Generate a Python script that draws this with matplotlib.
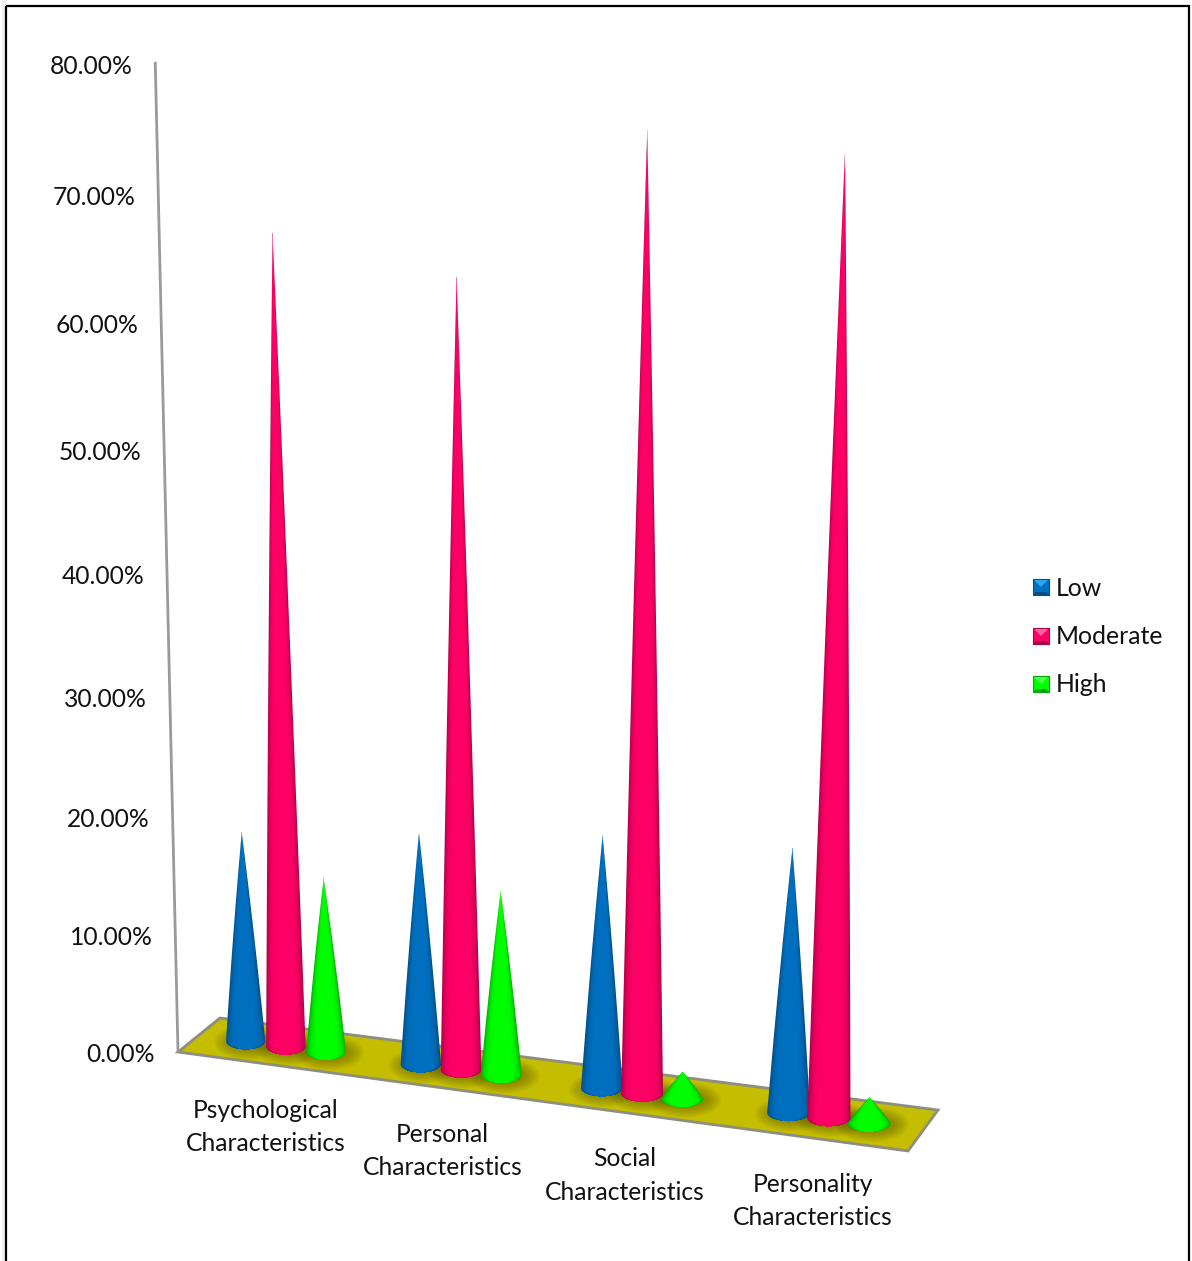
import numpy as np
import matplotlib
matplotlib.use("Agg")
import matplotlib.pyplot as plt
from matplotlib.patches import Ellipse, Polygon, Rectangle
from matplotlib.colors import to_rgb

plt.rcParams['font.family'] = ['Lato', 'DejaVu Sans']

categories = ["Psychological\nCharacteristics", "Personal\nCharacteristics",
              "Social\nCharacteristics", "Personality\nCharacteristics"]
series_names = ["Low", "Moderate", "High"]
low = [18.0, 19.7, 21.2, 21.9]
moderate = [67.2, 64.8, 77.0, 76.4]
high = [14.9, 15.6, 2.3, 2.2]
y_ticks = [0, 10, 20, 30, 40, 50, 60, 70, 80]

colors = ["#0070C0", "#FF0066", "#00FF00"]
lights = ["#2AA5F0", "#FF5FA5", "#4DFF4D"]
darks = ["#0A4C80", "#A8004A", "#00A800"]

W, H = 1192, 1261
# floor corners in the picture: front left, front right, back right, back left
corners = np.array([[178, 1052], [908, 1151], [938, 1110], [220, 1018]], float)
group_u = [0.120, 0.362, 0.612, 0.870]
VANISH_X, VANISH_D = 555, 16400


def floor_point(u, w):
    front = corners[0] + (corners[1] - corners[0]) * u
    back = corners[3] + (corners[2] - corners[3]) * u
    return front + (back - front) * w


def rise(v):
    # height in pixels of value v (percent) at the axis
    t = v / 10
    return 115.7 * t / (1 - 0.00785 * t)


def up(x, y, v, scale=1.0):
    h = rise(v) * scale
    return x + (x - VANISH_X) * h / VANISH_D, y - h


def cone(ax, cx, cy, rx, ry, tip, color, z):
    # cone as an RGBA image, one pixel per image cell, so the shading runs smooth
    tx, ty = tip
    x1, x2 = int(min(cx - rx, tx)) - 2, int(max(cx + rx, tx)) + 3
    y1, y2 = int(ty) - 1, int(cy + ry) + 2
    xs = np.arange(x1, x2) + 0.5
    ys = np.arange(y1, y2) + 0.5
    X, Y = np.meshgrid(xs, ys)
    f = np.clip((Y - ty) / (cy - ty), 0, 1)
    mid = tx + (cx - tx) * f
    half = rx * (f + 0.15 * f * (1 - f))
    below = Y > cy
    half[below] = rx * np.sqrt(np.clip(1 - ((Y[below] - cy) / ry) ** 2, 0, 1))
    mid[below] = cx
    alpha = np.clip(half - np.abs(X - mid) + 0.5, 0, 1)
    alpha[Y < ty] = 0
    t = np.abs(X - mid) / np.maximum(half, 0.01)
    shade = 1 - 0.33 * np.clip(t, 0, 1) ** 5
    img = np.zeros(X.shape + (4,))
    for c in range(3):
        img[..., c] = to_rgb(color)[c] * shade
    img[..., 3] = alpha
    ax.imshow(img, extent=(x1, x2, y2, y1), interpolation='bilinear', aspect='auto', zorder=z)


fig = plt.figure(figsize=(W / 100, H / 100), dpi=100)
ax = fig.add_axes([0, 0, 1, 1])
ax.axis('off')

# outer frame, runs off the bottom of the picture
ax.add_patch(Rectangle((2, 0), 4, H, fc="#F1F1F1", ec='none'))
ax.add_patch(Rectangle((6, 6), 1183, 1300, fill=False, ec="black", lw=1.6))

# value axis
x0, y0 = corners[0]
axis_top = up(x0, y0, 80.2)
ax.plot([x0, axis_top[0]], [y0, axis_top[1]], color="#9A9A9A", lw=2, solid_capstyle='butt')
for v in y_ticks:
    tx, ty = up(x0, y0, v)
    ax.text(tx - 23, ty + 2.5, f"{v:.2f}%", ha='right', va='center', fontsize=17.7, color="#111111")

# floor
floor = Polygon(corners, closed=True, fc="#C4BD00", ec="#8E8E80", lw=2, zorder=1)
ax.add_patch(floor)

step = 0.25 / 4.5
series = [low, moderate, high]
for i, name in enumerate(categories):
    for j, vals in enumerate(series):
        u = group_u[i] + (j - 1) * step
        bx, by = floor_point(u, 0.5)
        rx = 19.4 + 2.5 * u
        for k in range(8):
            sh = Ellipse((bx + 3, by + 1), 2 * (rx + 1 + 2 * k), 2 * (8.5 + 1.3 * k),
                         fc="#4A4600", ec='none', alpha=0.06, zorder=2)
            ax.add_patch(sh)
            sh.set_clip_path(floor)

for i, name in enumerate(categories):
    for j, vals in enumerate(series):
        u = group_u[i] + (j - 1) * step
        bx, by = floor_point(u, 0.5)
        rx = 19.4 + 2.5 * u
        tip = up(bx, by, vals[i], 0.985 + 0.05 * u)
        cone(ax, bx, by, rx, 8.5, tip, colors[j], 3 + i + j * 0.1)
    lx, ly = floor_point(group_u[i], 0)
    ax.text(lx, ly + 63, name, ha='center', va='center', fontsize=17.7, color="#111111",
            linespacing=1.56)

# legend with bevelled keys
key_x, key_y, key_s = 1033, [579, 628, 676], 16
for j, name in enumerate(series_names):
    x, y, s = key_x, key_y[j], key_s
    ax.add_patch(Rectangle((x, y), s, s, fc=colors[j], ec=darks[j], lw=0.8, zorder=5))
    ax.add_patch(Polygon([(x + 1, y + 1), (x + s - 1, y + 1), (x + s / 2, y + s * 0.5)],
                         fc=lights[j], ec='none', zorder=6))
    ax.add_patch(Polygon([(x, y + s), (x + s, y + s), (x + s - 3, y + s - 3), (x + 3, y + s - 3)],
                         fc=darks[j], ec='none', zorder=6))
    ax.text(1056, y + s / 2 + 1, name, ha='left', va='center', fontsize=17.9, color="#111111")

ax.set_xlim(0, W)
ax.set_ylim(H, 0)
fig.savefig("out.png", dpi=100)
